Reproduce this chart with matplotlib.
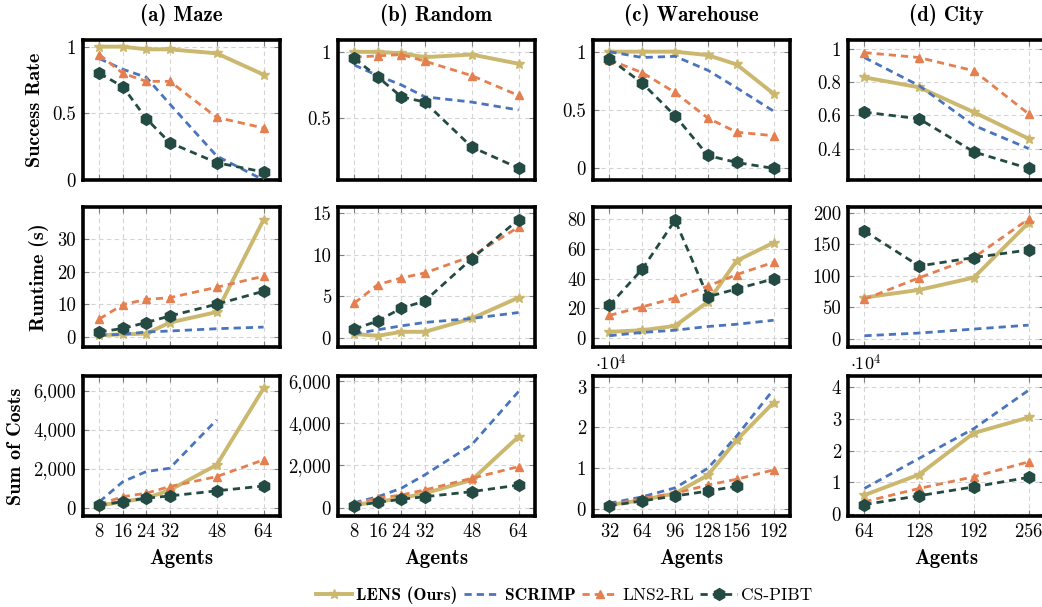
import matplotlib
matplotlib.use("agg")
import matplotlib.pyplot as plt
from matplotlib.ticker import FuncFormatter

plt.rcParams['font.family'] = 'cmr10'
plt.rcParams['mathtext.fontset'] = 'cm'
plt.rcParams['axes.formatter.use_mathtext'] = True

# ---- data ----
maps = ["(a) Maze", "(b) Random", "(c) Warehouse", "(d) City"]
agents_maze = [8, 16, 24, 32, 48, 64]
agents_random = [8, 16, 24, 32, 48, 64]
agents_warehouse = [32, 64, 96, 128, 156, 192]
agents_city = [64, 128, 192, 256]

# success rate
sr_lens = [[1.0, 1.0, 0.98, 0.98, 0.95, 0.79],
           [1.0, 1.0, 0.99, 0.96, 0.98, 0.91],
           [1.0, 1.0, 1.0, 0.97, 0.89, 0.64],
           [0.83, 0.77, 0.62, 0.46]]
sr_scrimp = [[0.91, 0.83, 0.77, 0.57, 0.18, 0.0],
             [0.90, 0.82, 0.75, 0.66, 0.62, 0.56],
             [1.0, 0.95, 0.96, 0.84, 0.69, 0.49],
             [0.95, 0.78, 0.54, 0.40]]
sr_lns2 = [[0.94, 0.80, 0.74, 0.74, 0.47, 0.39],
           [0.96, 0.97, 0.98, 0.93, 0.82, 0.67],
           [0.93, 0.82, 0.65, 0.43, 0.31, 0.28],
           [0.98, 0.95, 0.87, 0.61]]
sr_pibt = [[0.80, 0.70, 0.46, 0.28, 0.13, 0.06],
           [0.95, 0.81, 0.66, 0.62, 0.28, 0.12],
           [0.94, 0.73, 0.45, 0.11, 0.05, 0.0],
           [0.62, 0.58, 0.38, 0.28]]

# runtime (s)
rt_lens = [[0.5, 0.8, 1.0, 4.4, 7.6, 35.9],
           [0.48, 0.27, 0.75, 0.75, 2.35, 4.85],
           [4.2, 5.3, 8.2, 24.4, 52, 64.2],
           [65.7, 77.8, 97.3, 184]]
rt_scrimp = [[0.5, 0.8, 1.5, 1.8, 2.5, 3.0],
             [0.5, 1.0, 1.46, 1.87, 2.35, 3.06],
             [1.6, 3.8, 5.3, 7.8, 9.3, 12],
             [5.2, 9.5, 15.8, 22]]
rt_lns2 = [[5.5, 9.9, 11.5, 12.0, 15.2, 18.6],
           [4.2, 6.4, 7.2, 7.8, 9.8, 13.3],
           [15.3, 21, 27, 35, 42.7, 51],
           [63, 97, 129, 190]]
rt_pibt = [[1.5, 2.6, 4.4, 6.4, 10.0, 14.0],
           [1.07, 2.06, 3.57, 4.44, 9.5, 14.2],
           [22, 46.4, 79.3, 27.8, 33.1, 39.8],
           [171, 115.6, 129, 141]]

# sum of costs (maze/random raw, warehouse/city in 1e4)
soc_lens = [[100, 310, 480, 900, 2190, 6120],
            [130, 285, 445, 680, 1310, 3360],
            [0.1, 0.22, 0.385, 0.83, 1.69, 2.61],
            [0.6, 1.25, 2.56, 3.05]]
soc_scrimp = [[300, 1330, 1850, 2020, 4500, None],
              [240, 520, 920, 1550, 2970, 5490],
              [0.14, 0.30, 0.52, 1.0, 1.79, 2.93],
              [0.81, 1.76, 2.7, 3.91]]
soc_lns2 = [[175, 560, 740, 1080, 1590, 2450],
            [210, 445, 600, 840, 1390, 1940],
            [0.1, 0.26, 0.385, 0.59, 0.73, 0.96],
            [0.39, 0.81, 1.18, 1.65]]
soc_pibt = [[120, 310, 480, 600, 860, 1110],
            [95, 255, 400, 520, 760, 1070],
            [0.08, 0.2, 0.32, 0.44, 0.56, None],
            [0.3, 0.58, 0.86, 1.16]]

agents = [agents_maze, agents_random, agents_warehouse, agents_city]
rows = [(sr_lens, sr_scrimp, sr_lns2, sr_pibt),
        (rt_lens, rt_scrimp, rt_lns2, rt_pibt),
        (soc_lens, soc_scrimp, soc_lns2, soc_pibt)]
row_labels = ["Success Rate", "Runtime (s)", "Sum of Costs"]
method_names = ["LENS (Ours)", "SCRIMP", "LNS2-RL", "CS-PIBT"]

ylims = [[(0, 1.05), (0.03, 1.09), (-0.1, 1.1), (0.21, 1.056)],
         [(-3.1, 39.8), (-1.07, 15.7), (-6, 88.2), (-12.6, 209)],
         [(-430, 6750), (-390, 6220), (-0.17, 3.26), (-0.06, 4.36)]]
yticks = [[[0, 0.5, 1], [0.5, 1], [0, 0.5, 1], [0.4, 0.6, 0.8, 1]],
          [[0, 10, 20, 30], [0, 5, 10, 15], [0, 20, 40, 60, 80], [0, 50, 100, 150, 200]],
          [[0, 2000, 4000, 6000], [0, 2000, 4000, 6000], [0, 1, 2, 3], [0, 1, 2, 3, 4]]]

# ---- style ----
c_lens = "#cbb86e"
c_scrimp = "#4a74bd"
c_lns2 = "#e57f4f"
c_pibt = "#244b43"
dash = (0, (2.6, 1.8))
styles = [
    dict(color=c_lens, lw=2.8, ls="-", marker="*", ms=7),
    dict(color=c_scrimp, lw=2.0, ls=dash, marker=None),
    dict(color=c_lns2, lw=2.0, ls=dash, marker="^", ms=6),
    dict(color=c_pibt, lw=2.0, ls=dash, marker="h", ms=8.5),
]

W, H = 1042, 607
fig = plt.figure(figsize=(W / 100, H / 100), dpi=100)
lefts = [83, 338, 593, 848]
tops = [40, 207, 376]
aw, ah = 197, 140

def fmt_thousands(v, pos):
    if abs(v - round(v)) < 1e-9:
        return f"{int(round(v)):,}"
    return f"{v:g}"

handles = None
for r in range(3):
    for c in range(4):
        ax = fig.add_axes([lefts[c] / W, 1 - (tops[r] + ah) / H, aw / W, ah / H])
        xs = agents[c]
        lines = []
        for m in range(4):
            ys = rows[r][m][c]
            px = [x for x, y in zip(xs, ys) if y is not None]
            py = [y for y in ys if y is not None]
            st = styles[m]
            ln, = ax.plot(px, py, color=st["color"], lw=st["lw"], ls=st["ls"],
                          marker=st["marker"], ms=st.get("ms", 0),
                          markeredgecolor=st["color"], markerfacecolor=st["color"],
                          label=method_names[m], zorder=3)
            lines.append(ln)
        handles = lines
        span = xs[-1] - xs[0]
        ax.set_xlim(xs[0] - 0.1 * span, xs[-1] + 0.1 * span)
        ax.set_ylim(*ylims[r][c])
        ax.set_xticks(xs)
        ax.set_yticks(yticks[r][c])
        ax.yaxis.set_major_formatter(FuncFormatter(fmt_thousands))
        ax.grid(True, color="#d4d4d4", ls=(0, (4, 3)), lw=0.8)
        ax.set_axisbelow(True)
        ax.tick_params(direction="in", length=4, width=0.8, color="#7f7f7f",
                       top=True, right=True, labelsize=13.5, pad=5)
        for sp in ax.spines.values():
            sp.set_linewidth(2.6)
        if r < 2:
            ax.set_xticklabels([])
        else:
            ax.set_xlabel("Agents", family="cmb10", fontsize=15, labelpad=6)
            if c >= 2:
                ax.text(0.01, 1.02, r"$\cdot 10^4$", transform=ax.transAxes,
                        fontsize=13, ha="left", va="bottom")
        if r == 0:
            ax.set_title(maps[c], family="cmb10", fontsize=15, pad=14)
        if c == 0:
            ax.set_ylabel(row_labels[r], family="cmb10", fontsize=14.5, labelpad=6)

leg = fig.legend(handles, method_names, loc="center", ncol=4,
                 bbox_to_anchor=(564 / W, 1 - 595 / H), frameon=False,
                 fontsize=12.5, handlelength=2.1, columnspacing=0.35, handletextpad=0.25)
for i, t in enumerate(leg.get_texts()):
    if i < 2:
        t.set_family("cmb10")

fig.savefig("out.png", dpi=100)
